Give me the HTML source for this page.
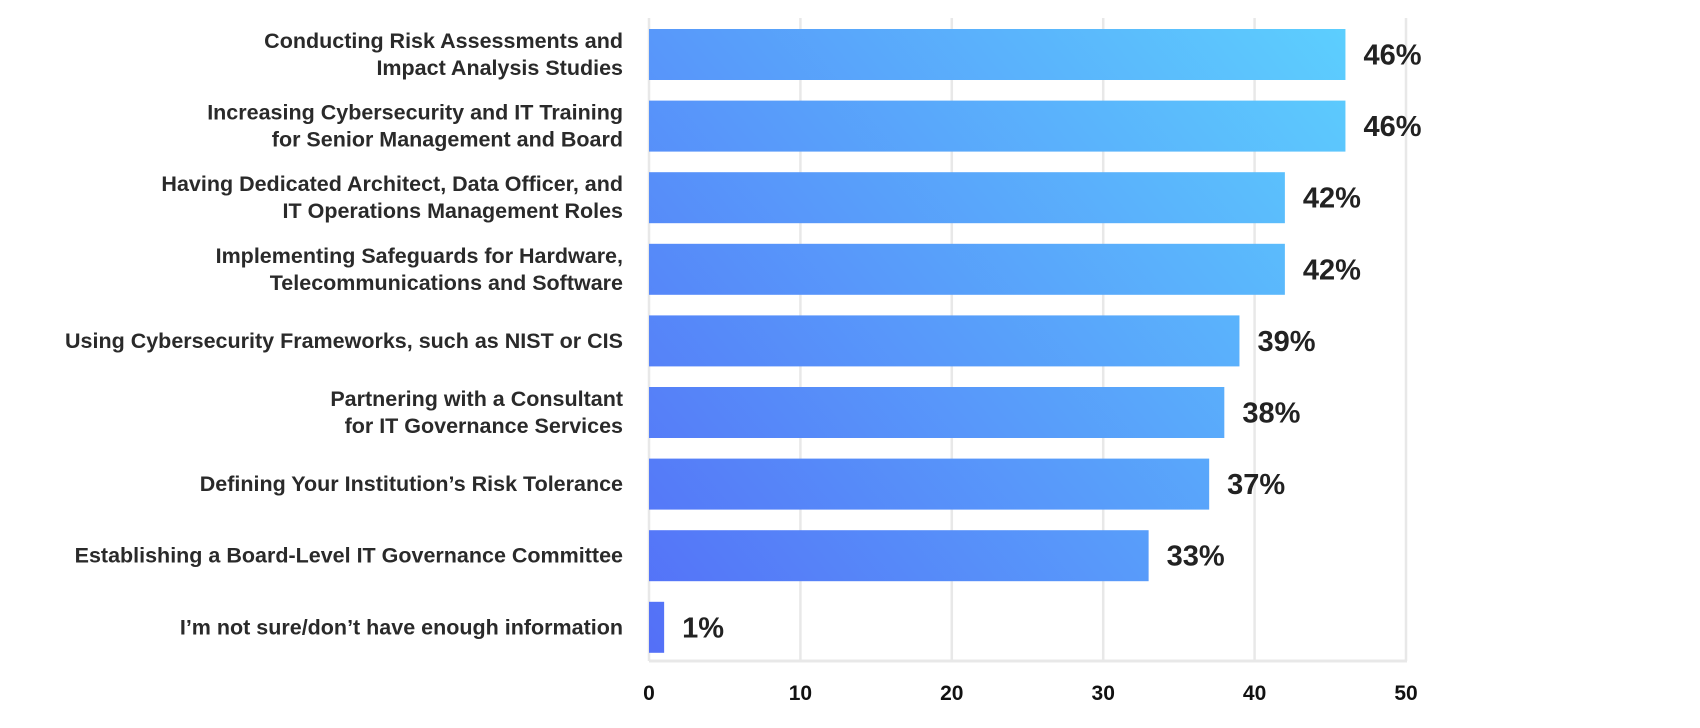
<!DOCTYPE html>
<html><head><meta charset="utf-8"><style>
html,body{margin:0;padding:0;background:#fff;}
svg{display:block;font-family:"Liberation Sans",sans-serif;}
</style></head><body>
<svg id="chart" width="1700" height="728" viewBox="0 0 1700 728">
<defs>
<linearGradient id="g" gradientUnits="userSpaceOnUse" x1="649" y1="660" x2="1406" y2="30">
<stop offset="0" stop-color="#546ff7"/>
<stop offset="1" stop-color="#5dd3fe"/>
</linearGradient>
</defs>
<g id="grid"></g>
<g id="bars"></g>
<g id="labels"></g>
<g id="ticks"></g>
</svg>
<script>
const categories = [
 ["Conducting Risk Assessments and","Impact Analysis Studies"],
 ["Increasing Cybersecurity and IT Training","for Senior Management and Board"],
 ["Having Dedicated Architect, Data Officer, and","IT Operations Management Roles"],
 ["Implementing Safeguards for Hardware,","Telecommunications and Software"],
 ["Using Cybersecurity Frameworks, such as NIST or CIS"],
 ["Partnering with a Consultant","for IT Governance Services"],
 ["Defining Your Institution\u2019s Risk Tolerance"],
 ["Establishing a Board-Level IT Governance Committee"],
 ["I\u2019m not sure/don\u2019t have enough information"]
];
const values = [46,46,42,42,39,38,37,33,1];
const tickValues = [0,10,20,30,40,50];

const NS="http://www.w3.org/2000/svg";
const x0=649, x1=1406, xMax=50;
const top0=29, step=71.6, barH=51;
const xs=v=>x0+(v/xMax)*(x1-x0);
function mk(tag,attrs,parent){const e=document.createElementNS(NS,tag);for(const k in attrs)e.setAttribute(k,attrs[k]);parent.appendChild(e);return e;}
const grid=document.getElementById('grid'),bars=document.getElementById('bars'),labels=document.getElementById('labels'),ticks=document.getElementById('ticks');
tickValues.forEach(t=>{
 const l=mk('line',{x1:xs(t),x2:xs(t),y1:18,y2:661,stroke:'#e8e8e8','stroke-width':2.5},grid);
 
 
 const tx=mk('text',{x:xs(t),y:700,'text-anchor':'middle','font-size':21,'font-weight':'bold',fill:'#111'},ticks);
 tx.textContent=t;
 
 
});
const base=mk('line',{x1:x0,x2:x1+1,y1:661,y2:661,stroke:'#e8e8e8','stroke-width':3},grid);


values.forEach((v,i)=>{
 const y=top0+i*step, cy=y+barH/2;
 const r=mk('rect',{x:x0,y:y,width:xs(v)-x0,height:barH,fill:'url(#g)'},bars);
 
 
 const vt=mk('text',{x:xs(v)+18,y:cy+10,'font-size':29,'font-weight':'bold',fill:'#222'},bars);
 vt.textContent=v+'%';
 
 
 const lines=categories[i];
 const t=mk('text',{x:623,'text-anchor':'end','font-size':21.5,'font-weight':'bold',fill:'#2a2a2a'},labels);
 
 
 lines.forEach((ln,j)=>{
  const ts=mk('tspan',{x:623,y:cy+7+(j-(lines.length-1)/2)*27},t);
  ts.textContent=ln;
 });
});
</script>
</body></html>
